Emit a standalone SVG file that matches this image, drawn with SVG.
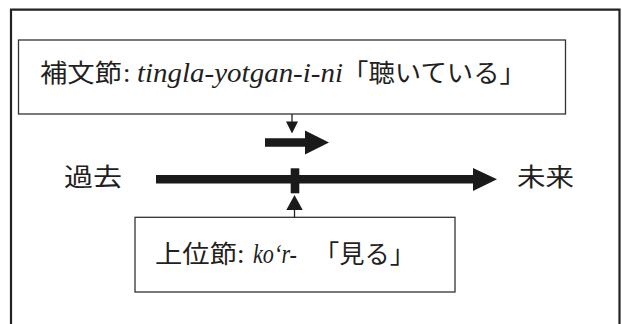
<svg xmlns="http://www.w3.org/2000/svg" width="622" height="324" viewBox="0 0 622 324">
  <style>
    .box { fill: #ffffff; stroke: #333333; stroke-width: 1.3; }
    .frame { fill: none; stroke: #222222; stroke-width: 2.2; }
    .cjk { font-family: "Liberation Serif", "Noto Sans CJK JP", serif; font-size: 25px; fill: #231f20; }
    .lat { font-family: "Liberation Serif", "Noto Sans CJK JP", serif; font-size: 27px; fill: #231f20; }
    .it { font-style: italic; }
    .thin { stroke: #222222; stroke-width: 1.3; fill: none; }
    .solid { fill: #1a1a1a; stroke: none; }
  </style>
  <rect width="622" height="324" fill="#ffffff"/>
  <path class="frame" d="M11,330 V9.7 H619.5 V330"/>

  <g id="complement-clause">
    <rect class="box" x="18.5" y="40" width="547" height="74"/>
    <text class="cjk" x="40" y="82" textLength="82" lengthAdjust="spacingAndGlyphs">補文節</text>
    <text class="lat" x="123" y="82">:</text>
    <text class="lat it" x="137" y="82" textLength="206" lengthAdjust="spacingAndGlyphs">tingla-yotgan-i-ni</text>
    <text class="cjk" x="342" y="82" textLength="184" lengthAdjust="spacingAndGlyphs">「聴いている」</text>
  </g>

  <g id="main-clause">
    <rect class="box" x="135" y="217.3" width="320" height="74.7"/>
    <text class="cjk" x="155" y="262.5" textLength="82" lengthAdjust="spacingAndGlyphs">上位節</text>
    <text class="lat" x="237" y="262.5">:</text>
    <text class="lat it" x="253" y="262.5" textLength="44" lengthAdjust="spacingAndGlyphs">ko‘r-</text>
    <text class="cjk" x="314" y="262.5" textLength="101" lengthAdjust="spacingAndGlyphs">「見る」</text>
  </g>

  <g id="past">
    <text class="cjk" x="64" y="186" textLength="58" lengthAdjust="spacingAndGlyphs">過去</text>
  </g>

  <g id="future">
    <text class="cjk" x="517" y="186" textLength="57" lengthAdjust="spacingAndGlyphs">未来</text>
  </g>

  <g id="connectors">
    <line class="thin" x1="292" y1="114" x2="292" y2="122"/>
    <polygon class="solid" points="286,121.5 298,121.5 292,133.5"/>
    <polygon class="solid" points="265,138.3 305,138.3 305,130.5 329,142.5 305,154.5 305,146.7 265,146.7"/>
    <polygon class="solid" points="156,175 473,175 473,168 497,179.3 473,191 473,183.5 156,183.5"/>
    <rect class="solid" x="290.7" y="168.3" width="8.6" height="25"/>
    <polygon class="solid" points="294.5,195 302.7,210 286.3,210"/>
    <line class="thin" x1="294.5" y1="209" x2="294.5" y2="217.3"/>
  </g>
</svg>
